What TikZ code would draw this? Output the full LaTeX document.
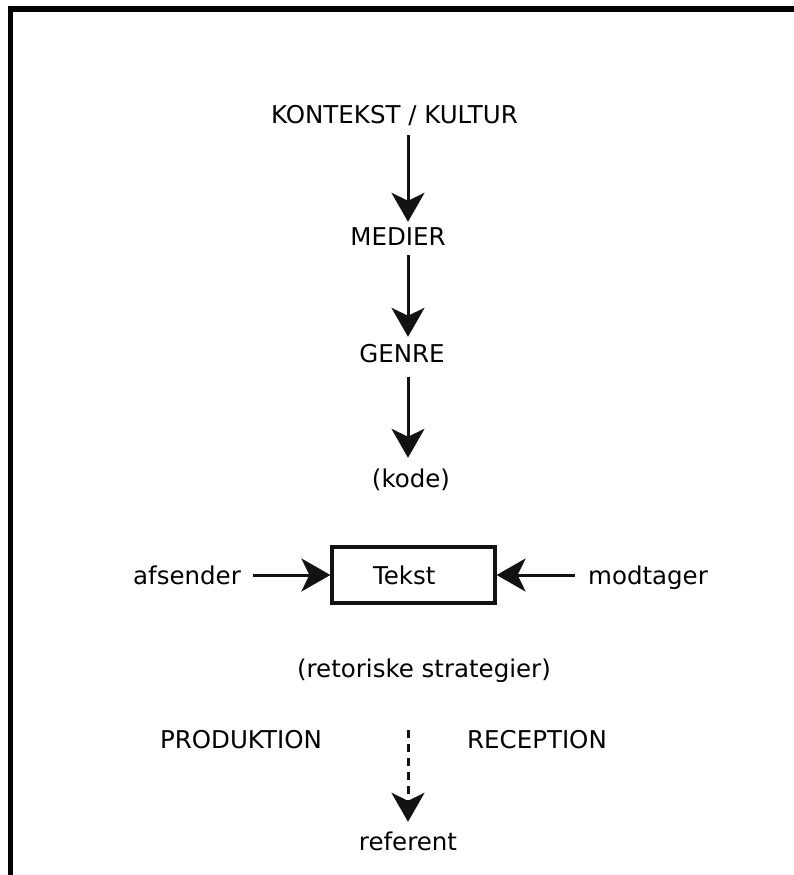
\documentclass[tikz,border=0pt]{standalone}
\usepackage{fontspec}
\setmainfont{DejaVu Sans}
\usetikzlibrary{arrows.meta}
\begin{document}
\begin{tikzpicture}[x=1pt,y=-1pt,
  lbl/.style={inner sep=0pt, anchor=base, text height=18pt, text depth=5pt,
    font=\fontsize{24.5}{28}\selectfont},
  flow/.style={line width=3pt, draw={black!93},
    -{Stealth[length=29pt, width=33pt, inset=8pt]}},
  dashflow/.style={flow, dash pattern=on 8pt off 6pt}]
  \useasboundingbox (0,0) rectangle (794,875);
  % frame: top and left edges only
  \draw[line width=5.5pt, miter limit=10] (10.5,875) -- (10.5,9) -- (794,9);

  \coordinate (spine) at (408,0);

  \node[lbl] (kontekst) at (394.5,123) {KONTEKST / KULTUR};
  \node[lbl] (medier)   at (398,245) {MEDIER};
  \node[lbl] (genre)    at (402,362) {GENRE};
  \node[lbl] (kode)     at (411,487) {(kode)};

  \node[draw={black!93}, line width=3.2pt, minimum height=56pt, inner xsep=0pt,
        text width=163pt, align=left, font=\fontsize{24.5}{28}\selectfont,
        text height=18pt, text depth=0pt]
        (tekst) at (413.5,575) {\hspace*{41pt}Tekst};
  \node[lbl] (afsender) at (187,584) {afsender};
  \node[lbl] (modtager) at (648,584) {modtager};

  \node[lbl] (retorik)  at (424,677) {(retoriske strategier)};
  \node[lbl] (produktion) at (241,748) {PRODUKTION};
  \node[lbl] (reception)  at (537,748) {RECEPTION};
  \node[lbl] (referent) at (408,850) {referent};

  \draw[flow, shorten <=7pt, shorten >=5pt]
    (kontekst.south -| spine) -- (medier.north -| spine);
  \draw[flow, shorten <=5pt, shorten >=7pt]
    (medier.south -| spine) -- (genre.north -| spine);
  \draw[flow, shorten <=10pt, shorten >=11pt]
    (genre.south -| spine) -- (kode.north -| spine);

  \draw[flow, shorten <=12pt] (afsender.east |- tekst.west) -- (tekst.west);
  \draw[flow, shorten <=13pt] (modtager.west |- tekst.east) -- (tekst.east);

  \draw[dashflow, shorten >=10pt]
    (produktion.north -| spine) -- (referent.north -| spine);
\end{tikzpicture}
\end{document}
